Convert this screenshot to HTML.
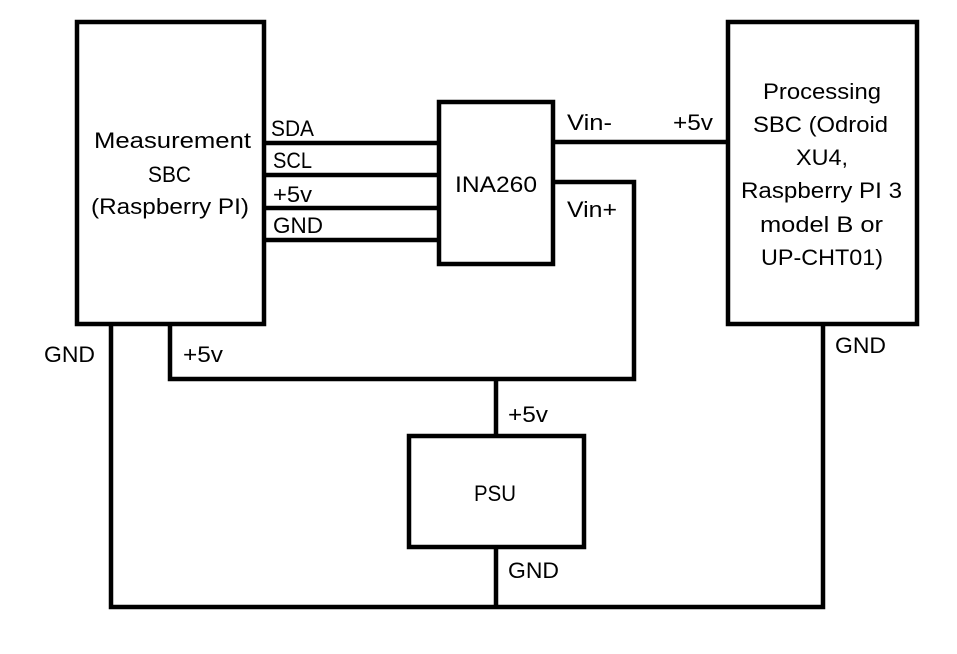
<!DOCTYPE html>
<html><head><meta charset="utf-8"><style>html,body{margin:0;padding:0;background:#fff}svg{display:block}</style></head>
<body>
<svg width="957" height="654" viewBox="0 0 957 654" xmlns="http://www.w3.org/2000/svg">
<g fill="none" stroke="#000" stroke-width="4.5">
<rect x="77" y="22" width="187" height="302"/>
<rect x="439" y="102" width="114" height="162"/>
<rect x="728" y="22" width="189" height="302"/>
<rect x="409" y="436" width="175" height="111"/>
<path d="M264 143H439M264 175H439M264 208H439M264 240H439"/>
<path d="M553 142H728M553 182H634V379H170V324"/>
<path d="M496 379V436M496 547V607M111 324V607H823V324"/>
</g>
<g font-family="Liberation Sans, sans-serif" font-size="22" fill="#000">
<text x="94" y="148" textLength="157" lengthAdjust="spacingAndGlyphs">Measurement</text>
<text x="148" y="182" textLength="43" lengthAdjust="spacingAndGlyphs">SBC</text>
<text x="91" y="214" textLength="158" lengthAdjust="spacingAndGlyphs">(Raspberry PI)</text>
<text x="271" y="136" textLength="43" lengthAdjust="spacingAndGlyphs">SDA</text>
<text x="273" y="168" textLength="39" lengthAdjust="spacingAndGlyphs">SCL</text>
<text x="273" y="202" textLength="39" lengthAdjust="spacingAndGlyphs">+5v</text>
<text x="273" y="233" textLength="50" lengthAdjust="spacingAndGlyphs">GND</text>
<text x="455" y="192" textLength="82" lengthAdjust="spacingAndGlyphs">INA260</text>
<text x="567" y="130" textLength="45" lengthAdjust="spacingAndGlyphs">Vin-</text>
<text x="673" y="130" textLength="40" lengthAdjust="spacingAndGlyphs">+5v</text>
<text x="567" y="217" textLength="50" lengthAdjust="spacingAndGlyphs">Vin+</text>
<text x="763" y="99" textLength="118" lengthAdjust="spacingAndGlyphs">Processing</text>
<text x="753" y="132" textLength="135" lengthAdjust="spacingAndGlyphs">SBC (Odroid</text>
<text x="796" y="165" textLength="52" lengthAdjust="spacingAndGlyphs">XU4,</text>
<text x="741" y="198" textLength="161" lengthAdjust="spacingAndGlyphs">Raspberry PI 3</text>
<text x="760" y="232" textLength="123" lengthAdjust="spacingAndGlyphs">model B or</text>
<text x="761" y="265" textLength="122" lengthAdjust="spacingAndGlyphs">UP-CHT01)</text>
<text x="44" y="362" textLength="51" lengthAdjust="spacingAndGlyphs">GND</text>
<text x="183" y="362" textLength="40" lengthAdjust="spacingAndGlyphs">+5v</text>
<text x="835" y="353" textLength="51" lengthAdjust="spacingAndGlyphs">GND</text>
<text x="508" y="422" textLength="40" lengthAdjust="spacingAndGlyphs">+5v</text>
<text x="474" y="501" textLength="42" lengthAdjust="spacingAndGlyphs">PSU</text>
<text x="508" y="578" textLength="51" lengthAdjust="spacingAndGlyphs">GND</text>
</g>
</svg>
</body></html>
